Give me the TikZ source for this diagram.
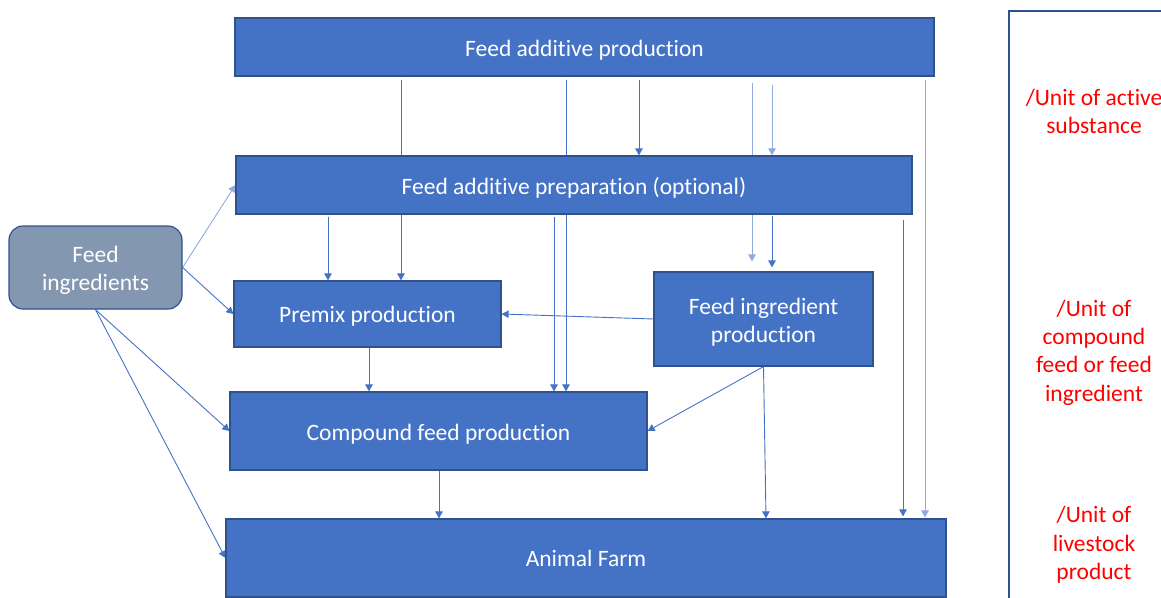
\documentclass[tikz,border=0pt]{standalone}
\usepackage{fontspec}
\setmainfont{Carlito}[Ligatures=NoCommon]
\usetikzlibrary{arrows.meta,backgrounds}
\definecolor{boxfill}{HTML}{4472C4}
\definecolor{boxdraw}{HTML}{2F528F}
\definecolor{ingfill}{HTML}{8497B0}
\definecolor{arrcol}{HTML}{4472C4}
\definecolor{lightcol}{HTML}{8FAADC}
\definecolor{framecol}{HTML}{2F528F}
\definecolor{unitred}{HTML}{FF0000}
\begin{document}
\begin{tikzpicture}[x=1pt,y=-1pt,
  box/.style={draw=boxdraw, line width=1.2pt, fill=boxfill, inner sep=0pt},
  ingbox/.style={box, fill=ingfill, rounded corners=14pt},
  txt/.style={text=white, inner sep=0pt, align=center, font=\fontsize{23.5}{28.5}\selectfont},
  arr/.style={draw=arrcol, line width=0.9pt, -{Triangle[width=7.5pt,length=7pt]}},
  lightarr/.style={arr, draw=lightcol},
  unit/.style={text=unitred, align=center, inner sep=0pt, font=\fontsize{23.5}{28.3}\selectfont}]
\useasboundingbox (0,0) rectangle (1161,597);

% boxes
\node[box, minimum width=699, minimum height=58] (fap) at (584.5,47) {};
\node[box, minimum width=676, minimum height=58] (prep) at (574,185) {};
\node[ingbox, minimum width=173, minimum height=83] (ing) at (95.5,267.5) {};
\node[box, minimum width=267, minimum height=66] (premix) at (367.5,314) {};
\node[box, minimum width=219, minimum height=94] (fip) at (763.5,319) {};
\node[box, minimum width=417, minimum height=78] (comp) at (438.5,431) {};
\node[box, minimum width=720, minimum height=78] (farm) at (586,558) {};

% box texts
\node[txt] (fap-t) at ([yshift=-3pt]fap.center) {Feed additive production};
\node[txt] (prep-t) at ([yshift=-3pt]prep.center) {Feed additive preparation (optional)};
\node[txt] (ing-t) at ([yshift=-3pt]ing.center) {Feed\\ingredients};
\node[txt] (premix-t) at ([yshift=-2pt]premix.center) {Premix production};
\node[txt] (fip-t) at ([yshift=-3pt]fip.center) {Feed ingredient\\production};
\node[txt] (comp-t) at ([yshift=-3pt]comp.center) {Compound feed production};
\node[txt] (farm-t) at ([yshift=0pt]farm.center) {Animal Farm};

% right frame and unit labels
\draw[framecol, line width=1.5pt] (1175,11) -- (1009,11) -- (1009,610);
\node[unit] (u1) at (1094,111.5) {/Unit of active\\substance};
\node[unit] (u2) at (1094,352.5) {/Unit of\\compound\\feed or feed\\ingredient};
\node[unit] (u3) at (1094,545) {/Unit of\\livestock\\product};

% column coordinates
\coordinate (c328) at (328,0);
\coordinate (c369) at (369,0);
\coordinate (c401) at (401,0);
\coordinate (c439) at (439,0);
\coordinate (c554) at (554,0);
\coordinate (c566) at (566,0);
\coordinate (c639) at (639,0);
\coordinate (c752) at (752,0);
\coordinate (c766) at (766,0);
\coordinate (c772) at (772,0);
\coordinate (c903) at (903,0);
\coordinate (c925) at (925,0);

\begin{pgfonlayer}{background}
% from feed additive production
\draw[arr, shorten <=3pt] (fap.south -| c401) -- (premix.north -| c401);
\draw[arr, shorten <=3pt] (fap.south -| c566) -- (comp.north -| c566);
\draw[arr, shorten <=3pt] (fap.south -| c639) -- (prep.north -| c639);
\draw[lightarr, shorten <=6pt, shorten >=10pt] (fap.south -| c752) -- (fip.north -| c752);
\draw[lightarr, shorten <=8pt] (fap.south -| c772) -- (prep.north -| c772);
\draw[lightarr, shorten <=3pt, shorten >=1pt] (fap.south -| c925) -- (farm.north -| c925);
% from preparation
\draw[arr, shorten <=2pt] (prep.south -| c328) -- (premix.north -| c328);
\draw[arr, shorten <=2pt] (prep.south -| c554) -- (comp.north -| c554);
\draw[arr, shorten <=1pt, shorten >=4pt] (prep.south -| c772) -- (fip.north -| c772);
\draw[arr, shorten <=5pt, shorten >=2pt] (prep.south -| c903) -- (farm.north -| c903);
% from feed ingredients
\draw[lightarr] (ing.east) -- (prep.west);
\draw[arr] (ing.east) -- (premix.west);
\draw[arr] (ing.south) -- (comp.west);
\draw[arr] (ing.south) -- (farm.west);
% others
\draw[arr] (fip.west) -- (premix.east);
\draw[arr] (premix.south -| c369) -- (comp.north -| c369);
\draw[arr] (fip.south) -- (comp.east);
\draw[arr] (fip.south) -- (farm.north -| c766);
\draw[arr] (comp.south -| c439) -- (farm.north -| c439);
\end{pgfonlayer}
\end{tikzpicture}
\end{document}
